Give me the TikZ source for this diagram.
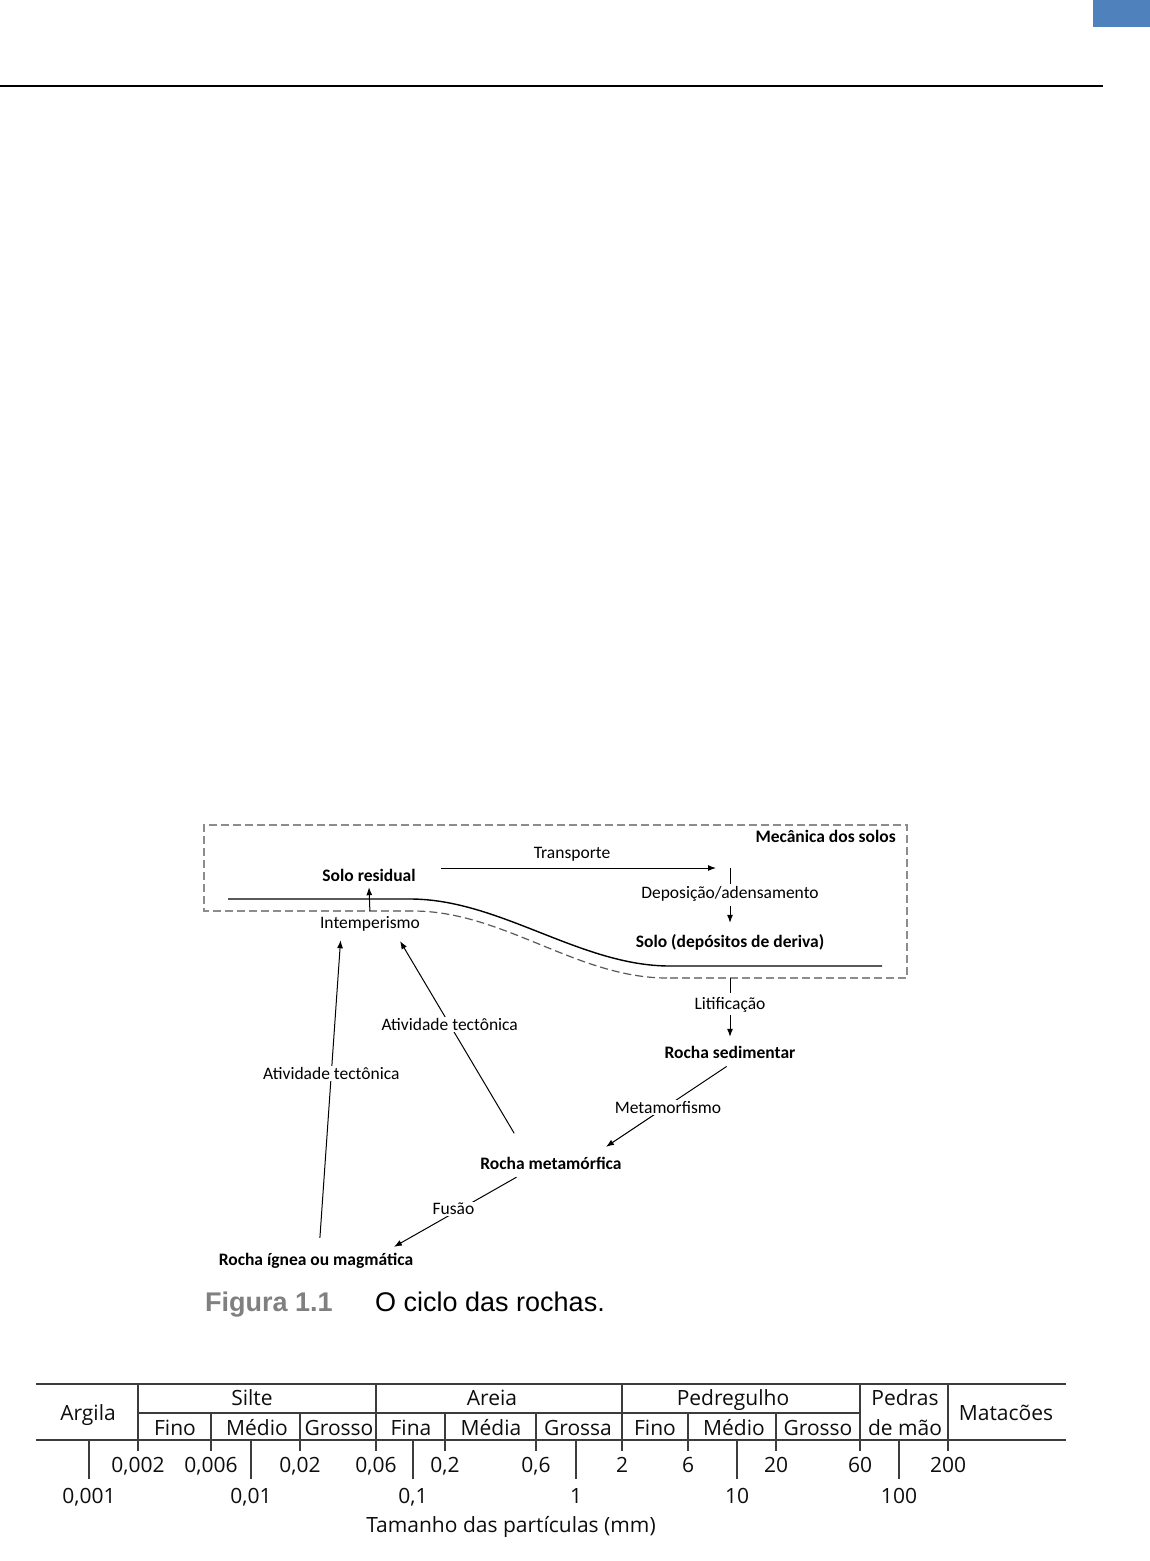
\documentclass[tikz,border=0pt]{standalone}
\usepackage{fontspec}
\setmainfont{Carlito}
\newfontfamily\tabfont{Open Sans}
\newfontfamily\capfont{Liberation Sans}
\usepackage{tikz}
\usetikzlibrary{arrows.meta}
\definecolor{hdrblue}{HTML}{4F81BD}
\definecolor{boxgray}{HTML}{8C8C8C}
\definecolor{rulegray}{HTML}{3C3C3C}
\definecolor{figgray}{HTML}{808080}

\begin{document}
\begin{tikzpicture}[x=1pt,y=-1pt]
\tikzset{edge/.style = {->,> = {Latex[length=8pt,width=6pt]}, line width=1pt}}
\tikzset{lbl/.style = {font=\fontsize{17.5}{20}\selectfont, anchor=base, inner sep=2pt, text height=12pt, text depth=4pt}}
\tikzset{blbl/.style = {lbl, font=\fontsize{17.5}{20}\selectfont\bfseries}}
\tikzset{onln/.style = {font=\fontsize{17.5}{20}\selectfont, fill=white, inner sep=1.5pt}}
\tikzset{tab/.style = {font=\tabfont\fontsize{21}{24}\selectfont, anchor=base, inner sep=0pt, text=black!95}}
\tikzset{tline/.style = {rulegray, line width=1.8pt}}
\tikzset{capt/.style = {font=\capfont\fontsize{27}{30}\selectfont, anchor=base west, inner sep=0pt}}
\useasboundingbox (0,0) rectangle (1150,1561);
\fill [hdrblue] (1093,0) rectangle (1150,27);
\draw [line width=2pt] (0,86) -- (1103,86);
\draw [boxgray, line width=1.2pt, dash pattern=on 8pt off 4pt] (413,911) -- (204,911) -- (204,825) -- (907,825) -- (907,978) -- (667,978);
\draw [black!65, line width=1.2pt, dash pattern=on 8pt off 4pt] (667,978) .. controls (577,978) and (503,911) .. (413,911);
\draw [line width=1.4pt] (228,899) -- (410,899) .. controls (500,899) and (580,966) .. (670,966) -- (882,966);
\node [blbl, anchor=base east] at (898,842) (meca) {Mecânica dos solos};
\node [blbl] at (369,881) (resid) {Solo residual};
\node [lbl] at (370,928) (intemp) {Intemperismo};
\node [lbl] at (572,858) (transp) {Transporte};
\node [lbl] at (730,898) (dep) {Deposição/adensamento};
\node [blbl] at (730,947) (soil) {Solo (depósitos de deriva)};
\node [lbl] at (730,1009) (lit) {Litificação};
\node [blbl] at (730,1058) (sed) {Rocha sedimentar};
\node [blbl] at (551,1169) (meta) {Rocha metamórfica};
\node [blbl] at (316,1265) (ign) {Rocha ígnea ou magmática};
\coordinate (deptop) at (730,868);
\draw [line width=1pt] (deptop) -- (dep.north);
\draw [edge, shorten <=23pt, shorten >=14pt] (resid.east |- deptop) -- (deptop);
\draw [edge, shorten <=3pt] (intemp.north) -- (resid.south);
\draw [edge, shorten <=2pt, shorten >=10pt] (dep.south) -- (soil.north);
\draw [line width=1pt, shorten <=25pt, shorten >=2pt] (soil.south) -- (lit.north);
\draw [edge, shorten >=7pt] (lit.south) -- (sed.north);
\draw [edge, shorten <=4pt] (sed.south) -- ([xshift=55pt,yshift=8pt]meta.north) node [onln, pos=0.5, yshift=-2pt] (metam) {Metamorfismo};
\draw [edge, shorten <=4pt, shorten >=8pt] ([xshift=-31pt]meta.south) -- ([xshift=71pt]ign.north) node [onln, pos=0.5, yshift=4pt] (fus) {Fusão};
\draw [edge, shorten <=13pt, shorten >=6pt] ([xshift=3pt]ign.north) -- ([xshift=-29pt]intemp.south) node [onln, pos=0.56] (tect1) {Atividade tectônica};
\draw [edge, shorten <=25pt, shorten >=8pt] ([xshift=-24pt]meta.north) -- ([xshift=26pt]intemp.south) node [onln, pos=0.59] (tect2) {Atividade tectônica};
\draw [tline] (36,1384) -- (1066,1384);
\draw [tline] (138,1413) -- (860,1413);
\draw [tline] (36,1440) -- (1066,1440);
\foreach \x in {138,376,622,860,948}
  \draw [tline] (\x,1384) -- (\x,1451);
\foreach \x in {211,300,445,536,688,776}
  \draw [tline] (\x,1413) -- (\x,1451);
\foreach \x in {89,251,413,576,737,899}
  \draw [tline] (\x,1440) -- (\x,1479);
\node [tab] at (88,1420) (argila) {Argila};
\node [tab] at (252,1405) (silte) {Silte};
\node [tab] at (492,1405) (areia) {Areia};
\node [tab] at (733,1405) (pedreg) {Pedregulho};
\node [tab] at (905,1405) (pedras) {Pedras};
\node [tab] at (905,1435) (demao) {de mão};
\node [tab] at (1006,1420) (matac) {Matacões};
\foreach \x/\t [count=\i] in {175/Fino,257/Médio,339/Grosso,411/Fina,491/Média,578/Grossa,655/Fino,734/Médio,818/Grosso}
  \node [tab] at (\x,1435) (sub\i) {\t};
\foreach \x/\t in {138/{0,002},211/{0,006},300/{0,02},376/{0,06},445/{0,2},536/{0,6},622/2,688/6,776/20,860/60,948/200}
  \node [tab] at (\x,1472) (up\x) {\t};
\foreach \x/\t in {89/{0,001},251/{0,01},413/{0,1},576/1,737/10,899/100}
  \node [tab] at (\x,1503) (lo\x) {\t};
\node [tab] at (511,1532) (tam) {Tamanho das partículas (mm)};
\node [capt, text=figgray, font=\capfont\bfseries\fontsize{27}{30}\selectfont] at (205,1311) (figno) {Figura 1.1};
\node [capt] at (375,1311) (figcap) {O ciclo das rochas.};
\end{tikzpicture}
\end{document}
